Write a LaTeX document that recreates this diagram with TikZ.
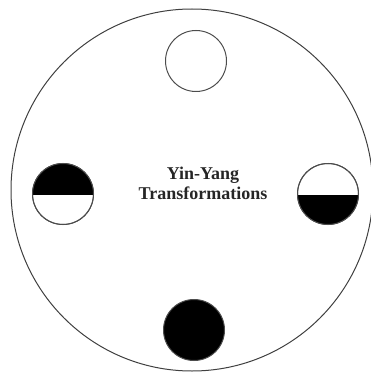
\documentclass[tikz,border=0pt]{standalone}
\usepackage{fontspec}
\setmainfont{Liberation Serif}
\begin{document}
\begin{tikzpicture}[x=1pt,y=-1pt,
  ring/.style={draw=black!75,line width=1pt},
  disc/.style={circle,minimum size=61pt,inner sep=0pt,draw=black!70,line width=1pt},
  label/.style={font=\bfseries\fontsize{18}{20}\selectfont,align=center,text=black!85}]
\useasboundingbox (0,0) rectangle (371,382);
\node[circle,minimum size=362pt,inner sep=0pt,ring] (outer) at (192,190) {};
\node[disc] (top) at (196,61) {};
\node[disc,fill=black] (bottom) at (194,330) {};
\node[disc] (left) at (63,194) {};
\node[disc] (right) at (328,194) {};
\begin{scope}
  \clip (left.center) circle (30.5);
  \fill[black] ([xshift=-2pt]left.west) rectangle ([xshift=2pt,yshift=32pt]left.east);
\end{scope}
\draw[line width=1pt] (left.west) -- (left.east);
\begin{scope}
  \clip (right.center) circle (30.5);
  \fill[black] ([xshift=-2pt,yshift=-1pt]right.west) rectangle ([xshift=2pt,yshift=-32pt]right.east);
\end{scope}
\draw[line width=1pt] ([yshift=-1pt]right.west) -- ([yshift=-1pt]right.east);
\node[disc] at (left) {};
\node[disc] at (right) {};
\node[label] (title) at (203,183) {Yin-Yang\\Transformations};
\end{tikzpicture}
\end{document}
